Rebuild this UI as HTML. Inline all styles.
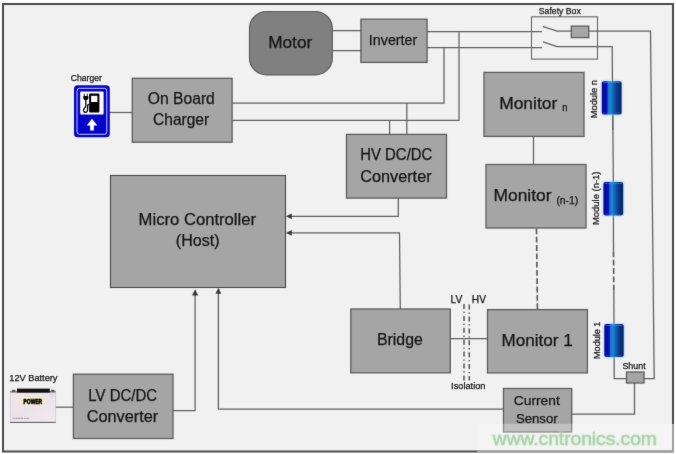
<!DOCTYPE html>
<html>
<head>
<meta charset="utf-8">
<style>
html,body{margin:0;padding:0;background:#ffffff;}
body{width:676px;height:454px;overflow:hidden;font-family:"Liberation Sans",sans-serif;}
svg{display:block;position:absolute;left:0;top:0;}
text{font-family:"Liberation Sans",sans-serif;fill:#141414;stroke:#141414;stroke-width:0.25px;}
.ln{stroke:#606060;stroke-width:1.25;fill:none;}
.bx{fill:#a5a5a5;stroke:#5c5c5c;stroke-width:1.3;}
</style>
</head>
<body>
<svg width="676" height="454" viewBox="0 0 676 454">
<defs>
<linearGradient id="cyl" x1="0" y1="0" x2="1" y2="0">
<stop offset="0" stop-color="#0a0a8c"/>
<stop offset="0.1" stop-color="#0808ac"/>
<stop offset="0.25" stop-color="#0a10b4"/>
<stop offset="0.33" stop-color="#1874cc"/>
<stop offset="0.43" stop-color="#1a88d6"/>
<stop offset="0.57" stop-color="#1466b6"/>
<stop offset="0.75" stop-color="#0c3a8a"/>
<stop offset="1" stop-color="#081e66"/>
</linearGradient>
<linearGradient id="batt" x1="0" y1="0" x2="1" y2="1">
<stop offset="0" stop-color="#f3e6e6"/>
<stop offset="0.5" stop-color="#ece2ec"/>
<stop offset="1" stop-color="#f2eaee"/>
</linearGradient>
<filter id="glow" x="-30%" y="-20%" width="160%" height="140%">
<feGaussianBlur stdDeviation="1"/>
</filter>
<filter id="soft" filterUnits="userSpaceOnUse" x="0" y="0" width="676" height="454" color-interpolation-filters="sRGB">
<feConvolveMatrix order="3" kernelMatrix="0.01 0.06 0.01 0.06 0.72 0.06 0.01 0.06 0.01" edgeMode="duplicate" preserveAlpha="true"/>
</filter>
</defs>
<g filter="url(#soft)">

<!-- frame -->
<rect x="0" y="0" width="676" height="454" fill="#ffffff"/>
<rect x="3" y="4" width="670" height="447.5" fill="#f1f1f1" stroke="#4b4b4b" stroke-width="2"/>

<!-- wiring -->
<g class="ln">
<path d="M332.3 30.6H361M332.3 50.6H361"/>
<path d="M427 31.7H542M427 47.5H542"/>
<path d="M444 47.5V103H232"/>
<path d="M459 31.7V120.4H232"/>
<path d="M389.6 120.4V134M406.8 103V134"/>
<path d="M398.3 198V216.3H291"/>
<path d="M291 232.9H399.5L400.3 309"/>
<path d="M450.5 338.5H487.5"/>
<path d="M533.5 136V164.5"/>
<path d="M109 112.5H132"/>
<path d="M55.5 407.2H73.4"/>
<path d="M173 410.5H195.1V295"/>
<path d="M503.5 409H218.4V293"/>
<path d="M572 414H634.5V383"/>
<!-- safety box switches -->
<path d="M542.7 26.4L557 31.2H571M589 31.2H650.5L654.2 378.7H644"/>
<path d="M543 41.8L557 46.6H612.2L612.8 130"/>
<path d="M612.8 114L613.3 182"/>
<path d="M613.4 215L613.5 251.5"/>
<path d="M613.8 290.5L614 324"/>
<path d="M614.1 357L614.2 378.7H626.5"/>
</g>
<g class="ln" stroke-dasharray="5.8 2.5" style="stroke:#565656;stroke-width:1.6">
<path d="M536.5 228.5L537.4 309.5"/>
<path d="M613.5 251.5L613.8 290.5"/>
</g>
<!-- isolation lines -->
<g stroke="#555555" stroke-width="1.5" fill="none" stroke-dasharray="5 2.8 1.3 2.8">
<path d="M464 304V380.5M469.3 304.6V380.5"/>
</g>

<!-- arrowheads -->
<g fill="#3a3a3a">
<path d="M285.9 216.3L291.8 213.4V219.2Z"/>
<path d="M285.9 232.9L291.8 230V235.8Z"/>
<path d="M195.1 289.2L192 295.6H198.2Z"/>
<path d="M218.4 287.8L215.5 293.7H221.3Z"/>
</g>

<!-- boxes -->
<rect x="249.5" y="11.5" width="82.8" height="63.4" rx="17" ry="17" fill="#808080" stroke="#5c5c5c" stroke-width="1.2"/>
<rect class="bx" x="360.9" y="19.2" width="66.2" height="43.2"/>
<rect class="bx" x="132.3" y="78.3" width="99.8" height="63.9"/>
<rect class="bx" x="346.5" y="134.4" width="100" height="63.7"/>
<rect class="bx" x="110.5" y="175.5" width="175" height="112" style="stroke:#484848;stroke-width:1.1"/>
<rect class="bx" x="350.8" y="309" width="99.5" height="63.8"/>
<rect class="bx" x="487.5" y="309.6" width="99.9" height="63.3"/>
<rect class="bx" x="486" y="164.5" width="100" height="63.5"/>
<rect class="bx" x="484" y="72.4" width="100" height="64"/>
<rect class="bx" x="73.4" y="374.2" width="99.6" height="64.3"/>
<rect class="bx" x="503.5" y="388.5" width="68.2" height="43.5"/>
<rect class="bx" x="626.5" y="372" width="17.5" height="11" stroke-width="1"/>
<rect x="531.5" y="16.8" width="66" height="42.3" fill="none" stroke="#666" stroke-width="1.1"/>
<rect class="bx" x="571.3" y="26.1" width="17.5" height="11.5" stroke-width="1"/>

<!-- modules -->
<g>
<rect x="601" y="80.4" width="21.4" height="34.8" rx="3" fill="#9fd0ff" opacity="0.7" filter="url(#glow)"/>
<rect x="601.8" y="81.2" width="19.8" height="33.2" rx="2" fill="url(#cyl)"/>
<rect x="602.6" y="181.2" width="21.4" height="35" rx="3" fill="#9fd0ff" opacity="0.7" filter="url(#glow)"/>
<rect x="603.4" y="182" width="19.8" height="33.5" rx="2" fill="url(#cyl)"/>
<rect x="603.5" y="323.3" width="21.4" height="34.5" rx="3" fill="#9fd0ff" opacity="0.7" filter="url(#glow)"/>
<rect x="604.3" y="324.1" width="19.4" height="33" rx="2" fill="url(#cyl)"/>
<path d="M603 82.6H620.4M604.6 183.4H622M605.5 325.5H622.5" stroke="#4aa8f0" stroke-width="0.9" opacity="0.55" fill="none"/>
<path d="M603 113.2H620.4M604.6 214.3H622M605.5 355.9H622.5" stroke="#2a7ad0" stroke-width="0.8" opacity="0.5" fill="none"/>
</g>

<!-- charger icon -->
<g>
<rect x="74" y="85.2" width="35.8" height="52" rx="3.5" fill="#0404c8"/>
<rect x="77" y="88.3" width="29.8" height="46" rx="2.5" fill="none" stroke="#e8e8ff" stroke-width="0.85"/>
<rect x="80.2" y="91.4" width="23.4" height="23.2" rx="1" fill="#ffffff"/>
<rect x="89.1" y="93.6" width="10.3" height="19" rx="1" fill="#000000"/>
<rect x="91.1" y="95.8" width="6.3" height="6.2" fill="#ffffff"/>
<path d="M84.3 93.6V96M87.3 93.6V96" stroke="#000" stroke-width="0.9" fill="none"/>
<path d="M83.3 96H88.3V98.6Q88.3 100.3 85.8 100.3Q83.3 100.3 83.3 98.6Z" fill="#000"/>
<path d="M85.8 100V105.5Q85.8 107 84.6 108Q83.2 109.6 83.6 111Q84.2 112.6 85.8 112.4Q87.6 112 87.6 109.5V105.5Q87.6 104.3 89.1 104.3" stroke="#000" stroke-width="1.3" fill="none"/>
<path d="M91.9 118.7L97.4 125.4H93.9V130.4H90.1V125.4H86.8Z" fill="#ffffff"/>
</g>

<!-- 12V battery -->
<g>
<rect x="10" y="391.8" width="45.8" height="30.8" fill="url(#batt)"/>
<path d="M10 391.9H55.8" stroke="#3a3a3a" stroke-width="1"/>
<path d="M10 422.4H55.8" stroke="#555" stroke-width="1"/>
<path d="M10.3 392V422M55.5 392V422" stroke="#cbbcc4" stroke-width="0.6"/>
<rect x="17" y="388.6" width="32.8" height="4" fill="#111111"/>
<rect x="12" y="389.8" width="3.4" height="2" fill="#555"/>
<rect x="51" y="389.8" width="3.4" height="2" fill="#555"/>
<rect x="50" y="394" width="4.5" height="3.4" fill="#dcdcf0"/>
<ellipse cx="32.8" cy="401" rx="13.5" ry="4.6" fill="#f8efb0" opacity="0.7" filter="url(#glow)"/>
<text x="23.6" y="404" font-size="6.4" font-weight="bold" textLength="18.4" lengthAdjust="spacingAndGlyphs" style="fill:#000;stroke:#000;stroke-width:0.6px">POWER</text>
<path d="M12.5 418.3H29" stroke="#8a8088" stroke-width="0.8" stroke-dasharray="2.2 0.6"/>
</g>

<!-- labels -->
<text font-size="16" x="268.2" y="48.0" textLength="44" lengthAdjust="spacingAndGlyphs">Motor</text>
<text x="368.8" y="45.4" font-size="14.2" textLength="48.5" lengthAdjust="spacingAndGlyphs">Inverter</text>
<text font-size="16" x="147.8" y="103.7" textLength="67" lengthAdjust="spacingAndGlyphs">On Board</text>
<text font-size="16" x="153.1" y="124.9" textLength="56" lengthAdjust="spacingAndGlyphs">Charger</text>
<text font-size="16" x="360.2" y="159.5" textLength="72.2" lengthAdjust="spacingAndGlyphs">HV DC/DC</text>
<text font-size="16" x="360.2" y="181.5" textLength="71.4" lengthAdjust="spacingAndGlyphs">Converter</text>
<text font-size="16" x="138.6" y="224.9" textLength="117.4" lengthAdjust="spacingAndGlyphs">Micro Controller</text>
<text font-size="16" x="175.8" y="246.3" textLength="43.7" lengthAdjust="spacingAndGlyphs">(Host)</text>
<text font-size="16" x="377" y="345.3" textLength="45.8" lengthAdjust="spacingAndGlyphs">Bridge</text>
<text font-size="16" x="501.4" y="345.6" textLength="71.3" lengthAdjust="spacingAndGlyphs">Monitor 1</text>
<text font-size="16" x="493.5" y="200.6" textLength="58" lengthAdjust="spacingAndGlyphs">Monitor</text>
<text x="556.4" y="203.6" font-size="10" textLength="21.8" lengthAdjust="spacingAndGlyphs">(n-1)</text>
<text font-size="16" x="499.2" y="109.2" textLength="58" lengthAdjust="spacingAndGlyphs">Monitor</text>
<text x="562.2" y="110.9" font-size="10.4" textLength="5.2" lengthAdjust="spacingAndGlyphs">n</text>
<text font-size="16" x="88.3" y="400.8" textLength="68.8" lengthAdjust="spacingAndGlyphs">LV DC/DC</text>
<text font-size="16" x="86.7" y="421.8" textLength="71.6" lengthAdjust="spacingAndGlyphs">Converter</text>
<text x="513.8" y="405.1" font-size="13.6" textLength="46" lengthAdjust="spacingAndGlyphs">Current</text>
<text x="515.9" y="423.2" font-size="13.6" textLength="41.8" lengthAdjust="spacingAndGlyphs">Sensor</text>

<text font-size="9.4" x="538.8" y="13.9" textLength="42" lengthAdjust="spacingAndGlyphs">Safety Box</text>
<text font-size="9.4" x="70.7" y="80.7" textLength="31.3" lengthAdjust="spacingAndGlyphs">Charger</text>
<text x="9.3" y="380.6" font-size="9.4" textLength="48.2" lengthAdjust="spacingAndGlyphs">12V Battery</text>
<text x="450.6" y="302.7" font-size="10.4" textLength="11.8" lengthAdjust="spacingAndGlyphs">LV</text>
<text x="471.8" y="302.7" font-size="10.4" textLength="14.2" lengthAdjust="spacingAndGlyphs">HV</text>
<text font-size="9.4" x="451.1" y="389.3" textLength="34.4" lengthAdjust="spacingAndGlyphs">Isolation</text>
<text x="622.4" y="369.2" font-size="9.4" textLength="23.3" lengthAdjust="spacingAndGlyphs">Shunt</text>
<text font-size="9.4" transform="translate(597.3 118.3) rotate(-90)" textLength="38.3" lengthAdjust="spacingAndGlyphs">Module n</text>
<text font-size="9.4" transform="translate(599 225) rotate(-90)" textLength="53.5" lengthAdjust="spacingAndGlyphs">Module (n-1)</text>
<text font-size="9.4" transform="translate(599.6 359) rotate(-90)" textLength="37.4" lengthAdjust="spacingAndGlyphs">Module 1</text>

<!-- watermark -->
<rect x="477.3" y="423.9" width="198.7" height="30.1" fill="#ffffff" opacity="0.3"/>
<path d="M477.3 451.5H673V423.9" fill="none" stroke="#9e9e9e" stroke-width="2"/>
<text x="492.8" y="444.8" font-size="18.8" textLength="164" lengthAdjust="spacingAndGlyphs" style="fill:#d6f3d6;stroke:#d6f3d6;stroke-width:2.2px" opacity="0.75" filter="url(#glow)">www.cntronics.com</text>
<text x="492.8" y="444.8" font-size="18.8" textLength="164" lengthAdjust="spacingAndGlyphs" style="fill:#adcbad;stroke:#adcbad;stroke-width:0.5px" opacity="0.9">www.cntronics.com</text>
</g>
</svg>
</body>
</html>
